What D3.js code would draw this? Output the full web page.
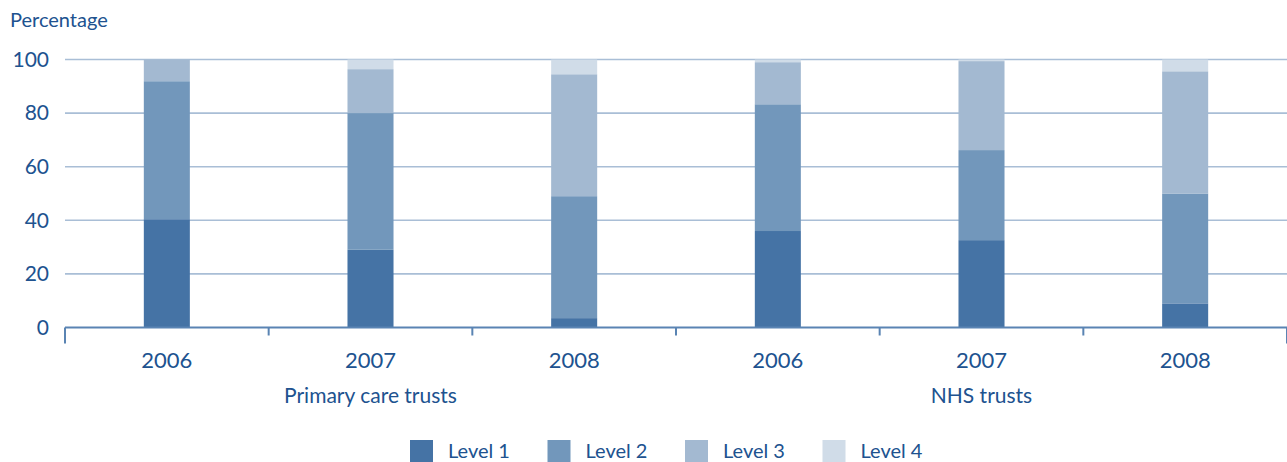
<!DOCTYPE html>
<html>
<head>
<meta charset="utf-8">
<script src="https://cdn.jsdelivr.net/npm/d3@7"></script>
<style>
  body { margin: 0; background: #fff; }
  svg { display: block; font-family: Lato, "Open Sans", sans-serif; }
</style>
</head>
<body>
<script>
// values (percent of trusts at each level)
const groups = ["Primary care trusts", "NHS trusts"];
const years = ["2006", "2007", "2008", "2006", "2007", "2008"];
const levels = ["Level 1", "Level 2", "Level 3", "Level 4"];
const level1 = [40.4, 29.0, 3.5, 36.0, 32.6, 9.0];
const level2 = [51.5, 51.0, 45.5, 47.3, 33.6, 41.0];
const level3 = [8.1, 16.4, 45.5, 15.7, 33.2, 45.6];
const level4 = [0.0, 3.6, 5.5, 1.0, 0.6, 4.4];
const yTicks = [0, 20, 40, 60, 80, 100];

const colors = ["#4573a5", "#7297bb", "#a3b9d1", "#d0dce8"];
const textColor = "#20528f";

const width = 1287, height = 462;
const marginLeft = 65, marginRight = 0, marginTop = 59.5, plotBottom = 327.5;

// build rows for the stack
const rows = years.map((y, i) => ({
  key: i,
  "Level 1": level1[i],
  "Level 2": level2[i],
  "Level 3": level3[i],
  "Level 4": level4[i]
}));

const x = d3.scaleBand()
  .domain(d3.range(years.length))
  .range([marginLeft, width - marginRight])
  .paddingInner(0)
  .paddingOuter(0);

const barW = x.bandwidth() * 0.226;

const y = d3.scaleLinear()
  .domain([0, 100])
  .range([plotBottom, marginTop]);

const stack = d3.stack().keys(levels);
const series = stack(rows);

const svg = d3.select("body").append("svg")
  .attr("width", width)
  .attr("height", height);

// y axis title
svg.append("text")
  .attr("x", 10)
  .attr("y", 27)
  .attr("fill", textColor)
  .attr("font-size", 20)
  .text("Percentage");

// gridlines
svg.append("g")
  .selectAll("line")
  .data(yTicks.filter(d => d > 0))
  .join("line")
  .attr("x1", marginLeft)
  .attr("x2", width - marginRight)
  .attr("y1", d => y(d))
  .attr("y2", d => y(d))
  .attr("stroke", "#a9bed6")
  .attr("stroke-width", 1.6);

// y axis labels
const yAxis = d3.axisLeft(y).tickValues(yTicks).tickSize(0).tickPadding(16);
svg.append("g")
  .attr("transform", `translate(${marginLeft},0)`)
  .call(yAxis)
  .call(g => g.select(".domain").remove())
  .call(g => g.selectAll("text")
    .attr("fill", textColor)
    .attr("font-size", 21)
    .attr("font-family", "Lato, 'Open Sans', sans-serif"));

// stacked bars
svg.append("g")
  .selectAll("g")
  .data(series)
  .join("g")
  .attr("fill", (d, i) => colors[i])
  .selectAll("rect")
  .data(d => d)
  .join("rect")
  .attr("x", d => x(d.data.key) + (x.bandwidth() - barW) / 2)
  .attr("width", barW)
  .attr("y", d => y(d[1]))
  .attr("height", d => y(d[0]) - y(d[1]));

// x axis line and ticks at band edges
const axisColor = "#5a84b3";
svg.append("line")
  .attr("x1", marginLeft)
  .attr("x2", width)
  .attr("y1", plotBottom)
  .attr("y2", plotBottom)
  .attr("stroke", axisColor)
  .attr("stroke-width", 2);

const edges = d3.range(years.length + 1).map(i => i < years.length ? x(i) : x(years.length - 1) + x.bandwidth());
svg.append("g")
  .selectAll("line")
  .data(edges)
  .join("line")
  .attr("x1", d => d)
  .attr("x2", d => d)
  .attr("y1", plotBottom)
  .attr("y2", (d, i) => (i === 0 || i === edges.length - 1) ? plotBottom + 16 : plotBottom + 8)
  .attr("stroke", axisColor)
  .attr("stroke-width", 2);

// year labels
svg.append("g")
  .selectAll("text")
  .data(years)
  .join("text")
  .attr("x", (d, i) => x(i) + x.bandwidth() / 2)
  .attr("y", 368)
  .attr("text-anchor", "middle")
  .attr("fill", textColor)
  .attr("font-size", 22)
  .text(d => d);

// group labels
svg.append("g")
  .selectAll("text")
  .data(groups)
  .join("text")
  .attr("x", (d, i) => (x(i * 3) + x(i * 3 + 2) + x.bandwidth()) / 2)
  .attr("y", 403)
  .attr("text-anchor", "middle")
  .attr("fill", textColor)
  .attr("font-size", 21)
  .text(d => d);

// legend
const legend = svg.append("g")
  .selectAll("g")
  .data(levels)
  .join("g")
  .attr("transform", (d, i) => `translate(${410 + i * 137.5},440)`);

legend.append("rect")
  .attr("width", 23)
  .attr("height", 22)
  .attr("fill", (d, i) => colors[i]);

legend.append("text")
  .attr("x", 38)
  .attr("y", 18)
  .attr("fill", textColor)
  .attr("font-size", 20)
  .text(d => d);
</script>
</body>
</html>
